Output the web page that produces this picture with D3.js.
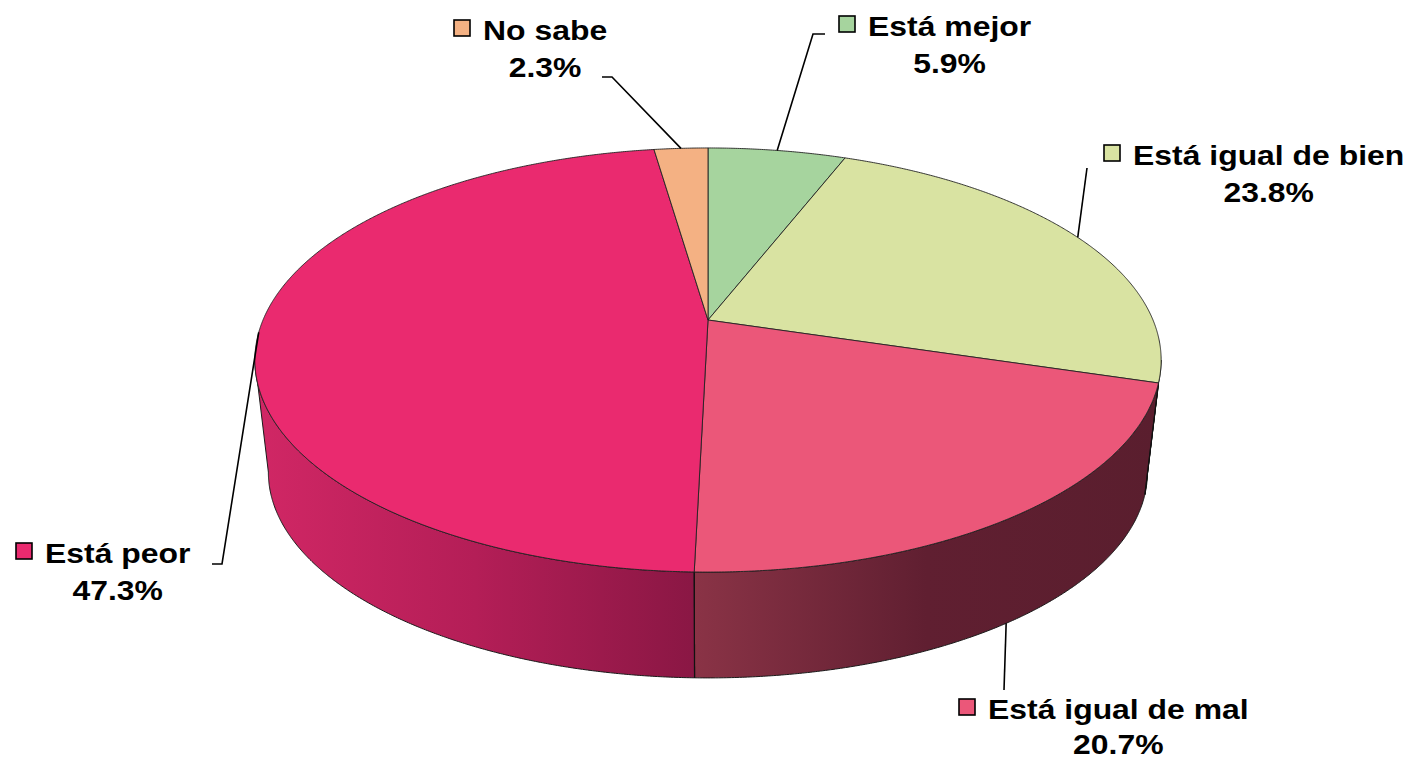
<!DOCTYPE html>
<html><head><meta charset="utf-8">
<script src="https://cdn.jsdelivr.net/npm/d3@7"></script>
<style>body{margin:0;background:#fff}</style></head>
<body>
<svg id="c" width="1406" height="760"></svg>
<script>
// ---- data ----
const categories = ["Está mejor", "Está igual de bien", "Está igual de mal", "Está peor", "No sabe"];
const values = [5.9, 23.8, 20.7, 47.3, 2.3];
const percentLabels = ["5.9%", "23.8%", "20.7%", "47.3%", "2.3%"];

// ---- styles ----
const topColors = ["#A6D49E", "#D9E3A2", "#EB5779", "#EA2A6F", "#F4B183"];
const sideColors = [
  ["#7FA877", "#6E9566", "#5F8558"],
  ["#A9B27A", "#9AA36C", "#8C955F"],
  ["#8A3346", "#601F31", "#5A1E2E"],
  ["#D12765", "#B41E57", "#8A1744"],
  ["#C48A62", "#B07A55", "#9C6B49"]
];
// label layout: left x of name text, baseline, line gap, leader elbow points (label side)
const labelLayout = [
  {x: 868, y: 36, gap: 37, elbow: [[825, 34], [813, 34]]},
  {x: 1133, y: 165, gap: 37, elbow: [[1087, 168]]},
  {x: 988, y: 719, gap: 35, elbow: [[1004, 690]]},
  {x: 45, y: 563, gap: 37, elbow: [[212, 564], [222, 564]]},
  {x: 483, y: 40, gap: 37, elbow: [[602, 77], [612, 77]]}
];

// ---- projection ----
const cx = 708, cy = 320, s = 445, t = 204.5, k = 0.1887;
const V = [705, 4100], lam = 0.03;
const xs = d3.scaleLinear().domain([-1, 1]).range([cx - s, cx + s]);
const zs = d3.scaleLinear().domain([-1, 1]).range([cy + t, cy - t]);
function topPt(a) {
  const X = Math.sin(a), Z = Math.cos(a), d = 1 + k * Z;
  return [cx + (xs(X) - cx) / d, cy + (zs(Z) - cy) / d];
}
function botPt(a) {
  const p = topPt(a);
  return [p[0] + lam * (V[0] - p[0]), p[1] + lam * (V[1] - p[1])];
}
// silhouette angles
let thR = 0, thL = 0, mx = -1e9, mn = 1e9;
for (let a = 0; a < 2 * Math.PI; a += 0.001) {
  const x = topPt(a)[0];
  if (x > mx) { mx = x; thR = a; }
  if (x < mn) { mn = x; thL = a; }
}
function arcPts(a0, a1, f) {
  const n = Math.max(2, Math.ceil((a1 - a0) / 0.005));
  const pts = [];
  for (let i = 0; i <= n; i++) pts.push(f(a0 + (a1 - a0) * i / n));
  return pts;
}

const svg = d3.select("#c");
const defs = svg.append("defs");
const pie = d3.pie().sort(null).value(d => d).startAngle(0).endAngle(2 * Math.PI);
const arcs = pie(values);
const line = d3.line();

// ---- sides ----
const gSide = svg.append("g");
arcs.forEach((d, i) => {
  const a0 = Math.max(d.startAngle, thR), a1 = Math.min(d.endAngle, thL);
  if (a0 >= a1) return;
  const top = arcPts(a0, a1, topPt);
  const bot = arcPts(a0, a1, botPt).reverse();
  const xr = topPt(a0)[0], xl = topPt(a1)[0];
  const gid = "sg" + i;
  const lg = defs.append("linearGradient").attr("id", gid)
    .attr("gradientUnits", "userSpaceOnUse")
    .attr("x1", xl).attr("x2", xr).attr("y1", 0).attr("y2", 0);
  sideColors[i].forEach((c, j) => lg.append("stop")
    .attr("offset", j / (sideColors[i].length - 1)).attr("stop-color", c));
  gSide.append("path")
    .attr("d", line(top.concat(bot)) + "Z")
    .attr("fill", `url(#${gid})`)
    .attr("stroke", "#1a1a1a").attr("stroke-width", 1).attr("stroke-linejoin", "round");
  [d.startAngle, d.endAngle].forEach(a => {
    if (a > thR && a < thL) {
      gSide.append("path").attr("d", line([topPt(a), botPt(a)]))
        .attr("stroke", "#111").attr("stroke-width", 1.2);
    }
  });
});

// ---- tops ----
const gTop = svg.append("g");
arcs.forEach((d, i) => {
  const pts = [[cx, cy]].concat(arcPts(d.startAngle, d.endAngle, topPt));
  gTop.append("path")
    .attr("d", line(pts) + "Z")
    .attr("fill", topColors[i])
    .attr("stroke", "#222").attr("stroke-width", 0.9).attr("stroke-linejoin", "round");
});

// ---- labels ----
const gLab = svg.append("g");
const SX = 1.12;
arcs.forEach((d, i) => {
  const L = labelLayout[i];
  const mid = (d.startAngle + d.endAngle) / 2;
  const anchor = (mid > thR && mid < thL) ? botPt(mid) : topPt(mid);
  gLab.append("path").attr("d", line(L.elbow.concat([anchor])))
    .attr("fill", "none").attr("stroke", "#000").attr("stroke-width", 1.6);
  gLab.append("rect")
    .attr("x", L.x - 29).attr("y", L.y - 20).attr("width", 16).attr("height", 16)
    .attr("fill", topColors[i]).attr("stroke", "#000").attr("stroke-width", 1.6);
  const g = gLab.append("g").attr("transform", `translate(${L.x},${L.y}) scale(${SX},1)`);
  const nt = g.append("text").attr("x", 0).attr("y", 0)
    .attr("font-family", "'Liberation Sans', Arial, sans-serif")
    .attr("font-weight", "bold").attr("font-size", 28.5).attr("fill", "#000")
    .text(categories[i]);
  const w = nt.node().getComputedTextLength();
  g.append("text").attr("x", w / 2).attr("y", L.gap)
    .attr("text-anchor", "middle")
    .attr("font-family", "'Liberation Sans', Arial, sans-serif")
    .attr("font-weight", "bold").attr("font-size", 28.5).attr("fill", "#000")
    .text(percentLabels[i]);
});
</script>
</body></html>
